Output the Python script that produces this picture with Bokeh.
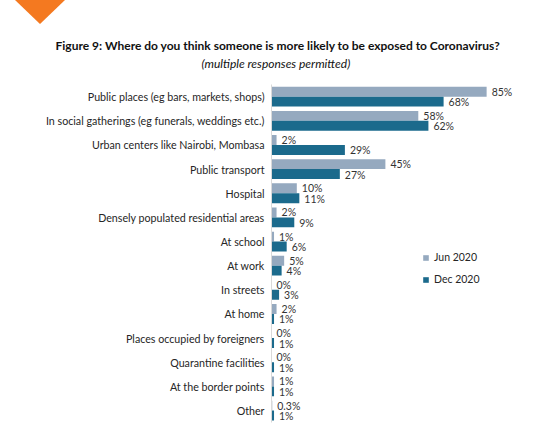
from bokeh.plotting import figure
from bokeh.models import ColumnDataSource, Range1d, Legend, LegendItem, FactorRange, Title, Div
from bokeh.layouts import column
from bokeh.transform import dodge
from bokeh.core.properties import value
from bokeh.embed import file_html
from bokeh.resources import INLINE

categories = [
    "Public places (eg bars, markets, shops)",
    "In social gatherings (eg funerals, weddings etc.)",
    "Urban centers like Nairobi, Mombasa",
    "Public transport",
    "Hospital",
    "Densely populated residential areas",
    "At school",
    "At work",
    "In streets",
    "At home",
    "Places occupied by foreigners",
    "Quarantine facilities",
    "At the border points",
    "Other",
]
jun_2020 = [85, 58, 2, 45, 10, 2, 1, 5, 0, 2, 0, 0, 1, 0.3]
dec_2020 = [68, 62, 29, 27, 11, 9, 6, 4, 3, 1, 1, 1, 1, 1]
jun_labels = ["85%", "58%", "2%", "45%", "10%", "2%", "1%", "5%", "0%", "2%", "0%", "0%", "1%", "0.3%"]
dec_labels = ["68%", "62%", "29%", "27%", "11%", "9%", "6%", "4%", "3%", "1%", "1%", "1%", "1%", "1%"]
series_names = ["Jun 2020", "Dec 2020"]
title_text = "Figure 9: Where do you think someone is more likely to be exposed to Coronavirus?"
subtitle_text = "(multiple responses permitted)"

JUN_COLOR = "#95a9bf"
DEC_COLOR = "#1b6a8c"
FONT = "Lato"
W = 547
HEAD_H = 24

# decorative orange triangle (top-left)
deco = Div(width=W, height=HEAD_H, margin=0,
           text='<div style="width:0;height:0;margin-left:15px;'
                'border-left:25px solid transparent;border-right:25px solid transparent;'
                'border-top:24px solid #f47920;"></div>')

src = ColumnDataSource(dict(cat=categories, jun=jun_2020, dec=dec_2020,
                            jl=jun_labels, dl=dec_labels))

p = figure(width=W, height=425 - HEAD_H, output_backend="svg", toolbar_location=None,
           y_range=FactorRange(factors=list(reversed(categories))),
           x_range=Range1d(0, 105.1), min_border_left=271, min_border_right=10,
           min_border_top=84 - HEAD_H, min_border_bottom=3)
p.outline_line_color = None
p.grid.grid_line_color = None
p.xaxis.visible = False
p.yaxis.axis_line_color = "#d9d9d9"
p.yaxis.major_tick_line_color = None
p.yaxis.minor_tick_line_color = None
p.yaxis.major_tick_out = 0
p.yaxis.major_tick_in = 0
p.yaxis.major_label_text_font = FONT
p.yaxis.major_label_text_font_size = "10.7px"
p.yaxis.major_label_text_color = "#262626"
p.yaxis.major_label_standoff = 7

r1 = p.hbar(y=dodge("cat", 0.2, range=p.y_range), right="jun", left=0, height=0.41,
            source=src, color=JUN_COLOR, line_color=None)
r2 = p.hbar(y=dodge("cat", -0.21, range=p.y_range), right="dec", left=0, height=0.41,
            source=src, color=DEC_COLOR, line_color=None)

p.text(x="jun", y=dodge("cat", 0.2, range=p.y_range), text="jl", source=src,
       x_offset=5, text_font=value(FONT), text_font_size="10.5px", text_color="#333333",
       text_baseline="middle")
p.text(x="dec", y=dodge("cat", -0.23, range=p.y_range), text="dl", source=src,
       x_offset=5, text_font=value(FONT), text_font_size="10.5px", text_color="#333333",
       text_baseline="middle")

legend = Legend(items=[LegendItem(label=series_names[0], renderers=[r1]),
                       LegendItem(label=series_names[1], renderers=[r2])],
                location=(151, 137), glyph_width=7, glyph_height=7, label_height=7,
                spacing=10, padding=0, margin=0, border_line_color=None,
                background_fill_alpha=0, label_text_font=FONT,
                label_text_font_size="10.5px", label_text_color="#262626",
                label_standoff=5)
p.add_layout(legend)

# spacer between frame and subtitle
p.add_layout(Title(text=" ", text_font_size="1px", standoff=10), "above")
p.add_layout(Title(text=subtitle_text, align="left", offset=-70, standoff=1,
                   text_font=FONT, text_font_size="12px", text_font_style="italic",
                   text_color="#111111"), "above")
p.add_layout(Title(text=title_text, align="left", offset=-216, standoff=2,
                   text_font=FONT, text_font_size="12px", text_font_style="bold",
                   text_color="#111111"), "above")

layout = column(deco, p, spacing=0)
open("out.html", "w").write(file_html(layout, INLINE))
